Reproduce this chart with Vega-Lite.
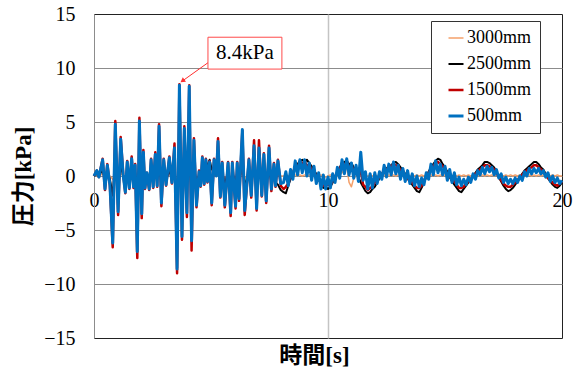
{
  "$schema": "https://vega.github.io/schema/vega-lite/v6.json",
  "width": 468,
  "height": 324,
  "autosize": {"type": "none"},
  "padding": {"left": 94, "top": 14, "right": 16, "bottom": 35},
  "background": "white",
  "config": {
    "view": {"stroke": "#222222", "strokeWidth": 1},
    "font": "Liberation Serif",
    "legend": {
      "orient": "none",
      "legendX": 337,
      "legendY": 7,
      "strokeColor": "#333333",
      "fillColor": "white",
      "padding": 8,
      "labelFont": "Liberation Serif",
      "labelFontSize": 18,
      "labelColor": "#000000",
      "symbolType": "stroke",
      "symbolSize": 225,
      "symbolOffset": 8,
      "labelOffset": 2,
      "rowPadding": 8
    }
  },
  "datasets": {
    "pressure": [
      {"t":0.00,"3000mm":0.0,"2500mm":0.0,"1500mm":0.0,"500mm":0.0},
      {"t":0.12,"3000mm":0.1,"2500mm":0.2,"1500mm":0.5,"500mm":0.5},
      {"t":0.21,"3000mm":0.0,"2500mm":0.1,"1500mm":-0.1,"500mm":-0.1},
      {"t":0.37,"3000mm":0.2,"2500mm":0.5,"1500mm":1.6,"500mm":1.5},
      {"t":0.47,"3000mm":-0.1,"2500mm":-0.3,"1500mm":-1.3,"500mm":-1.2},
      {"t":0.57,"3000mm":0.1,"2500mm":0.3,"1500mm":1.1,"500mm":1.0},
      {"t":0.68,"3000mm":0.0,"2500mm":-0.3,"1500mm":-0.9,"500mm":-0.8},
      {"t":0.80,"3000mm":-0.3,"2500mm":-1.8,"1500mm":-6.6,"500mm":-6.2},
      {"t":0.91,"3000mm":0.3,"2500mm":1.5,"1500mm":5.1,"500mm":4.8},
      {"t":1.03,"3000mm":-0.2,"2500mm":-1.0,"1500mm":-3.6,"500mm":-3.3},
      {"t":1.14,"3000mm":0.2,"2500mm":1.0,"1500mm":3.6,"500mm":3.4},
      {"t":1.25,"3000mm":0.0,"2500mm":0.0,"1500mm":0.1,"500mm":0.0},
      {"t":1.34,"3000mm":-0.1,"2500mm":-0.5,"1500mm":-1.6,"500mm":-1.5},
      {"t":1.42,"3000mm":0.1,"2500mm":0.4,"1500mm":1.4,"500mm":1.3},
      {"t":1.51,"3000mm":-0.1,"2500mm":-0.3,"1500mm":-1.2,"500mm":-1.1},
      {"t":1.61,"3000mm":0.1,"2500mm":0.5,"1500mm":1.8,"500mm":1.6},
      {"t":1.69,"3000mm":-0.1,"2500mm":-0.3,"1500mm":-1.1,"500mm":-1.0},
      {"t":1.76,"3000mm":0.1,"2500mm":0.3,"1500mm":1.1,"500mm":1.0},
      {"t":1.85,"3000mm":-0.4,"2500mm":-2.1,"1500mm":-7.6,"500mm":-7.0},
      {"t":1.94,"3000mm":0.3,"2500mm":1.5,"1500mm":5.4,"500mm":5.1},
      {"t":2.04,"3000mm":-0.2,"2500mm":-1.0,"1500mm":-3.9,"500mm":-3.5},
      {"t":2.11,"3000mm":0.2,"2500mm":0.7,"1500mm":2.4,"500mm":2.2},
      {"t":2.18,"3000mm":-0.1,"2500mm":-0.3,"1500mm":-1.2,"500mm":-1.1},
      {"t":2.26,"3000mm":0.0,"2500mm":0.1,"1500mm":0.3,"500mm":0.3},
      {"t":2.36,"3000mm":-0.1,"2500mm":-0.4,"1500mm":-1.3,"500mm":-1.2},
      {"t":2.44,"3000mm":0.1,"2500mm":0.5,"1500mm":1.6,"500mm":1.5},
      {"t":2.53,"3000mm":-0.1,"2500mm":-0.3,"1500mm":-1.1,"500mm":-1.0},
      {"t":2.62,"3000mm":0.1,"2500mm":0.6,"1500mm":2.2,"500mm":2.0},
      {"t":2.70,"3000mm":-0.1,"2500mm":-0.3,"1500mm":-1.0,"500mm":-0.9},
      {"t":2.78,"3000mm":0.3,"2500mm":1.4,"1500mm":4.8,"500mm":4.6},
      {"t":2.88,"3000mm":-0.2,"2500mm":-0.8,"1500mm":-2.8,"500mm":-2.5},
      {"t":2.98,"3000mm":0.1,"2500mm":0.5,"1500mm":1.6,"500mm":1.5},
      {"t":3.08,"3000mm":-0.1,"2500mm":-0.3,"1500mm":-0.9,"500mm":-0.8},
      {"t":3.22,"3000mm":0.1,"2500mm":0.5,"1500mm":1.8,"500mm":1.7},
      {"t":3.33,"3000mm":0.0,"2500mm":-0.2,"1500mm":-0.7,"500mm":-0.6},
      {"t":3.44,"3000mm":0.2,"2500mm":0.8,"1500mm":3.0,"500mm":2.6},
      {"t":3.55,"3000mm":-0.5,"2500mm":-2.6,"1500mm":-9.0,"500mm":-8.6},
      {"t":3.65,"3000mm":0.5,"2500mm":2.5,"1500mm":8.5,"500mm":8.4},
      {"t":3.76,"3000mm":-0.3,"2500mm":-1.7,"1500mm":-5.9,"500mm":-5.6},
      {"t":3.86,"3000mm":0.3,"2500mm":1.3,"1500mm":4.6,"500mm":4.4},
      {"t":3.97,"3000mm":-0.2,"2500mm":-1.0,"1500mm":-3.8,"500mm":-3.4},
      {"t":4.07,"3000mm":0.5,"2500mm":2.5,"1500mm":8.4,"500mm":8.3},
      {"t":4.17,"3000mm":-0.4,"2500mm":-1.8,"1500mm":-6.9,"500mm":-6.0},
      {"t":4.27,"3000mm":0.2,"2500mm":1.0,"1500mm":3.5,"500mm":3.3},
      {"t":4.38,"3000mm":-0.2,"2500mm":-0.8,"1500mm":-2.9,"500mm":-2.7},
      {"t":4.49,"3000mm":0.0,"2500mm":0.1,"1500mm":0.5,"500mm":0.4},
      {"t":4.56,"3000mm":-0.1,"2500mm":-0.3,"1500mm":-1.0,"500mm":-0.9},
      {"t":4.63,"3000mm":0.1,"2500mm":0.5,"1500mm":1.8,"500mm":1.7},
      {"t":4.71,"3000mm":0.0,"2500mm":0.2,"1500mm":-0.8,"500mm":-0.7},
      {"t":4.78,"3000mm":0.1,"2500mm":0.8,"1500mm":1.6,"500mm":1.5},
      {"t":4.85,"3000mm":0.0,"2500mm":1.0,"1500mm":-0.6,"500mm":-0.5},
      {"t":4.94,"3000mm":0.1,"2500mm":1.5,"1500mm":1.4,"500mm":1.3},
      {"t":5.03,"3000mm":-0.1,"2500mm":0.6,"1500mm":-2.7,"500mm":-2.5},
      {"t":5.13,"3000mm":0.1,"2500mm":0.8,"1500mm":1.6,"500mm":1.5},
      {"t":5.23,"3000mm":0.0,"2500mm":0.2,"1500mm":0.1,"500mm":0.0},
      {"t":5.30,"3000mm":0.2,"2500mm":1.0,"1500mm":3.5,"500mm":3.2},
      {"t":5.40,"3000mm":-0.1,"2500mm":-0.6,"1500mm":-2.0,"500mm":-1.9},
      {"t":5.48,"3000mm":0.1,"2500mm":0.4,"1500mm":1.3,"500mm":1.2},
      {"t":5.59,"3000mm":-0.2,"2500mm":-0.8,"1500mm":-2.9,"500mm":-2.7},
      {"t":5.73,"3000mm":0.1,"2500mm":0.4,"1500mm":1.3,"500mm":1.2},
      {"t":5.84,"3000mm":-0.2,"2500mm":-1.0,"1500mm":-3.7,"500mm":-3.4},
      {"t":5.91,"3000mm":0.1,"2500mm":0.4,"1500mm":1.3,"500mm":1.2},
      {"t":6.05,"3000mm":-0.2,"2500mm":-0.8,"1500mm":-3.0,"500mm":-2.8},
      {"t":6.12,"3000mm":0.1,"2500mm":0.4,"1500mm":1.3,"500mm":1.2},
      {"t":6.20,"3000mm":-0.1,"2500mm":-0.6,"1500mm":-2.3,"500mm":-2.1},
      {"t":6.34,"3000mm":0.3,"2500mm":1.3,"1500mm":4.2,"500mm":4.3},
      {"t":6.44,"3000mm":-0.2,"2500mm":-1.0,"1500mm":-3.6,"500mm":-3.2},
      {"t":6.62,"3000mm":0.1,"2500mm":0.5,"1500mm":1.6,"500mm":1.5},
      {"t":6.72,"3000mm":-0.1,"2500mm":-0.6,"1500mm":-2.0,"500mm":-1.8},
      {"t":6.84,"3000mm":0.2,"2500mm":0.9,"1500mm":3.3,"500mm":2.8},
      {"t":6.95,"3000mm":-0.2,"2500mm":-0.9,"1500mm":-3.2,"500mm":-3.0},
      {"t":7.05,"3000mm":0.2,"2500mm":0.8,"1500mm":3.3,"500mm":2.6},
      {"t":7.17,"3000mm":-0.1,"2500mm":-0.6,"1500mm":-1.9,"500mm":-1.8},
      {"t":7.26,"3000mm":0.1,"2500mm":0.6,"1500mm":2.1,"500mm":2.0},
      {"t":7.36,"3000mm":-0.1,"2500mm":-0.8,"1500mm":-2.5,"500mm":-2.3},
      {"t":7.48,"3000mm":0.2,"2500mm":0.8,"1500mm":2.8,"500mm":2.6},
      {"t":7.58,"3000mm":-0.1,"2500mm":-0.6,"1500mm":-1.4,"500mm":-1.2},
      {"t":7.69,"3000mm":0.1,"2500mm":0.3,"1500mm":1.2,"500mm":1.1},
      {"t":7.76,"3000mm":-0.1,"2500mm":-0.6,"1500mm":-1.0,"500mm":-0.9},
      {"t":7.86,"3000mm":0.1,"2500mm":-0.8,"1500mm":1.5,"500mm":1.4},
      {"t":7.98,"3000mm":0.0,"2500mm":-1.3,"1500mm":-0.9,"500mm":-0.7},
      {"t":8.1,"3000mm":0.0,"2500mm":-1.5,"1500mm":-1.2,"500mm":-0.6},
      {"t":8.2,"3000mm":0.1,"2500mm":-1.6,"1500mm":-1.0,"500mm":0.4},
      {"t":8.3,"3000mm":0.0,"2500mm":-0.9,"1500mm":-0.7,"500mm":-0.9},
      {"t":8.4,"3000mm":0.1,"2500mm":-0.3,"1500mm":0.0,"500mm":0.6},
      {"t":8.5,"3000mm":0.0,"2500mm":0.3,"1500mm":0.3,"500mm":-0.3},
      {"t":8.6,"3000mm":0.1,"2500mm":0.7,"1500mm":0.9,"500mm":1.4},
      {"t":8.7,"3000mm":0.0,"2500mm":1.1,"1500mm":0.7,"500mm":0.1},
      {"t":8.8,"3000mm":0.1,"2500mm":1.4,"1500mm":1.4,"500mm":1.5},
      {"t":8.9,"3000mm":0.0,"2500mm":1.5,"1500mm":1.1,"500mm":0.3},
      {"t":9.0,"3000mm":0.1,"2500mm":1.3,"1500mm":1.4,"500mm":1.5},
      {"t":9.1,"3000mm":0.0,"2500mm":1.5,"1500mm":0.9,"500mm":0.0},
      {"t":9.2,"3000mm":0.1,"2500mm":1.2,"1500mm":1.1,"500mm":1.2},
      {"t":9.3,"3000mm":0.0,"2500mm":0.9,"1500mm":0.5,"500mm":-0.4},
      {"t":9.4,"3000mm":0.0,"2500mm":0.5,"1500mm":0.6,"500mm":0.9},
      {"t":9.5,"3000mm":0.1,"2500mm":0.2,"1500mm":-0.1,"500mm":-0.7},
      {"t":9.6,"3000mm":0.0,"2500mm":-0.3,"1500mm":-0.2,"500mm":0.3},
      {"t":9.7,"3000mm":0.1,"2500mm":-0.7,"1500mm":-0.7,"500mm":-1.2},
      {"t":9.8,"3000mm":0.0,"2500mm":-1.1,"1500mm":-0.9,"500mm":0.1},
      {"t":9.9,"3000mm":-0.1,"2500mm":-1.0,"1500mm":-0.9,"500mm":-1.2},
      {"t":10.0,"3000mm":0.0,"2500mm":-1.2,"1500mm":-0.8,"500mm":-0.1},
      {"t":10.1,"3000mm":0.1,"2500mm":-1.0,"1500mm":-0.9,"500mm":-1.1},
      {"t":10.2,"3000mm":0.0,"2500mm":-0.6,"1500mm":-0.4,"500mm":0.2},
      {"t":10.3,"3000mm":-0.2,"2500mm":-0.1,"1500mm":-0.1,"500mm":-0.6},
      {"t":10.4,"3000mm":0.0,"2500mm":0.3,"1500mm":0.4,"500mm":0.8},
      {"t":10.5,"3000mm":0.1,"2500mm":0.8,"1500mm":0.6,"500mm":-0.2},
      {"t":10.6,"3000mm":0.3,"2500mm":1.1,"1500mm":1.2,"500mm":1.5},
      {"t":10.7,"3000mm":0.6,"2500mm":1.3,"1500mm":0.9,"500mm":0.2},
      {"t":10.8,"3000mm":0.9,"2500mm":1.4,"1500mm":1.4,"500mm":1.6},
      {"t":10.9,"3000mm":-0.6,"2500mm":1.1,"1500mm":0.8,"500mm":0.1},
      {"t":11.0,"3000mm":-1.0,"2500mm":1.2,"1500mm":1.0,"500mm":1.2},
      {"t":11.1,"3000mm":-0.2,"2500mm":0.8,"1500mm":0.5,"500mm":-0.2},
      {"t":11.2,"3000mm":0.0,"2500mm":0.4,"1500mm":0.4,"500mm":1.0},
      {"t":11.3,"3000mm":0.1,"2500mm":-0.1,"1500mm":0.0,"500mm":-0.5},
      {"t":11.4,"3000mm":0.0,"2500mm":-0.6,"1500mm":0.6,"500mm":2.2},
      {"t":11.5,"3000mm":0.1,"2500mm":-1.0,"1500mm":-0.8,"500mm":-0.4},
      {"t":11.6,"3000mm":0.0,"2500mm":-1.4,"1500mm":-1.0,"500mm":0.4},
      {"t":11.7,"3000mm":0.0,"2500mm":-1.6,"1500mm":-1.3,"500mm":-1.2},
      {"t":11.8,"3000mm":0.1,"2500mm":-1.5,"1500mm":-1.1,"500mm":0.2},
      {"t":11.9,"3000mm":0.0,"2500mm":-1.2,"1500mm":-1.0,"500mm":-1.1},
      {"t":12.0,"3000mm":0.1,"2500mm":-1.0,"1500mm":-0.6,"500mm":0.3},
      {"t":12.1,"3000mm":0.0,"2500mm":-0.6,"1500mm":-0.5,"500mm":-0.7},
      {"t":12.2,"3000mm":0.1,"2500mm":-0.2,"1500mm":0.0,"500mm":0.4},
      {"t":12.3,"3000mm":0.0,"2500mm":0.2,"1500mm":0.2,"500mm":-0.3},
      {"t":12.4,"3000mm":0.1,"2500mm":0.4,"1500mm":0.5,"500mm":1.0},
      {"t":12.5,"3000mm":0.0,"2500mm":0.7,"1500mm":0.6,"500mm":-0.1},
      {"t":12.6,"3000mm":0.1,"2500mm":0.9,"1500mm":0.8,"500mm":1.1},
      {"t":12.7,"3000mm":0.0,"2500mm":1.0,"1500mm":0.9,"500mm":0.1},
      {"t":12.8,"3000mm":0.1,"2500mm":1.2,"1500mm":1.1,"500mm":1.3},
      {"t":12.9,"3000mm":0.0,"2500mm":1.3,"1500mm":1.0,"500mm":0.2},
      {"t":13.0,"3000mm":0.1,"2500mm":1.1,"1500mm":0.9,"500mm":1.0},
      {"t":13.1,"3000mm":0.0,"2500mm":0.8,"1500mm":0.5,"500mm":-0.3},
      {"t":13.2,"3000mm":0.1,"2500mm":0.5,"1500mm":0.5,"500mm":0.7},
      {"t":13.3,"3000mm":0.0,"2500mm":0.2,"1500mm":0.0,"500mm":-0.5},
      {"t":13.4,"3000mm":0.1,"2500mm":-0.2,"1500mm":-0.2,"500mm":0.5},
      {"t":13.5,"3000mm":0.0,"2500mm":-0.5,"1500mm":-0.5,"500mm":-0.7},
      {"t":13.6,"3000mm":0.1,"2500mm":-0.8,"1500mm":-0.6,"500mm":0.2},
      {"t":13.7,"3000mm":0.0,"2500mm":-1.1,"1500mm":-0.9,"500mm":-0.9},
      {"t":13.8,"3000mm":0.1,"2500mm":-1.4,"1500mm":-1.1,"500mm":0.0},
      {"t":13.9,"3000mm":0.0,"2500mm":-1.5,"1500mm":-1.1,"500mm":-1.0},
      {"t":14.0,"3000mm":0.1,"2500mm":-1.1,"1500mm":-0.9,"500mm":-0.2},
      {"t":14.1,"3000mm":0.0,"2500mm":-0.6,"1500mm":-0.4,"500mm":-0.8},
      {"t":14.2,"3000mm":0.1,"2500mm":-0.1,"1500mm":-0.1,"500mm":0.3},
      {"t":14.3,"3000mm":0.0,"2500mm":0.4,"1500mm":0.3,"500mm":-0.3},
      {"t":14.4,"3000mm":0.1,"2500mm":0.8,"1500mm":0.6,"500mm":1.1},
      {"t":14.5,"3000mm":0.0,"2500mm":1.1,"1500mm":0.9,"500mm":0.1},
      {"t":14.6,"3000mm":0.1,"2500mm":1.4,"1500mm":1.2,"500mm":1.4},
      {"t":14.7,"3000mm":0.0,"2500mm":1.6,"1500mm":1.3,"500mm":0.3},
      {"t":14.8,"3000mm":0.1,"2500mm":1.5,"1500mm":1.1,"500mm":1.1},
      {"t":14.9,"3000mm":0.0,"2500mm":1.1,"1500mm":0.9,"500mm":0.1},
      {"t":15.0,"3000mm":0.1,"2500mm":0.8,"1500mm":0.6,"500mm":0.9},
      {"t":15.1,"3000mm":0.0,"2500mm":0.4,"1500mm":0.2,"500mm":-0.4},
      {"t":15.2,"3000mm":0.1,"2500mm":-0.1,"1500mm":0.0,"500mm":0.6},
      {"t":15.3,"3000mm":0.0,"2500mm":-0.5,"1500mm":-0.4,"500mm":-0.6},
      {"t":15.4,"3000mm":0.1,"2500mm":-0.8,"1500mm":-0.5,"500mm":0.3},
      {"t":15.5,"3000mm":0.0,"2500mm":-1.1,"1500mm":-0.8,"500mm":-0.8},
      {"t":15.6,"3000mm":0.1,"2500mm":-1.4,"1500mm":-1.1,"500mm":-0.1},
      {"t":15.7,"3000mm":0.0,"2500mm":-1.5,"1500mm":-1.1,"500mm":-0.9},
      {"t":15.8,"3000mm":0.1,"2500mm":-1.2,"1500mm":-1.0,"500mm":-0.3},
      {"t":15.9,"3000mm":0.0,"2500mm":-0.9,"1500mm":-0.7,"500mm":-0.8},
      {"t":16.0,"3000mm":0.1,"2500mm":-0.6,"1500mm":-0.5,"500mm":-0.1},
      {"t":16.1,"3000mm":0.0,"2500mm":-0.3,"1500mm":-0.3,"500mm":-0.6},
      {"t":16.2,"3000mm":0.1,"2500mm":0.0,"1500mm":0.0,"500mm":0.2},
      {"t":16.3,"3000mm":0.0,"2500mm":0.3,"1500mm":0.2,"500mm":-0.3},
      {"t":16.4,"3000mm":0.1,"2500mm":0.6,"1500mm":0.4,"500mm":0.5},
      {"t":16.5,"3000mm":0.0,"2500mm":0.8,"1500mm":0.6,"500mm":0.1},
      {"t":16.6,"3000mm":0.1,"2500mm":1.0,"1500mm":0.8,"500mm":0.8},
      {"t":16.7,"3000mm":0.0,"2500mm":1.3,"1500mm":1.0,"500mm":0.2},
      {"t":16.8,"3000mm":0.1,"2500mm":1.3,"1500mm":1.0,"500mm":0.9},
      {"t":16.9,"3000mm":0.0,"2500mm":1.2,"1500mm":0.9,"500mm":0.4},
      {"t":17.0,"3000mm":0.1,"2500mm":1.0,"1500mm":0.8,"500mm":0.8},
      {"t":17.1,"3000mm":0.0,"2500mm":0.8,"1500mm":0.6,"500mm":0.1},
      {"t":17.2,"3000mm":0.1,"2500mm":0.4,"1500mm":0.3,"500mm":0.6},
      {"t":17.3,"3000mm":0.0,"2500mm":-0.1,"1500mm":-0.1,"500mm":-0.2},
      {"t":17.4,"3000mm":0.1,"2500mm":-0.5,"1500mm":-0.4,"500mm":0.2},
      {"t":17.5,"3000mm":0.0,"2500mm":-0.9,"1500mm":-0.7,"500mm":-0.6},
      {"t":17.6,"3000mm":0.1,"2500mm":-1.2,"1500mm":-0.9,"500mm":-0.1},
      {"t":17.7,"3000mm":0.0,"2500mm":-1.4,"1500mm":-1.0,"500mm":-0.7},
      {"t":17.8,"3000mm":0.1,"2500mm":-1.3,"1500mm":-1.0,"500mm":-0.3},
      {"t":17.9,"3000mm":0.0,"2500mm":-1.1,"1500mm":-0.8,"500mm":-0.7},
      {"t":18.0,"3000mm":0.1,"2500mm":-0.8,"1500mm":-0.6,"500mm":-0.2},
      {"t":18.1,"3000mm":0.0,"2500mm":-0.5,"1500mm":-0.4,"500mm":-0.6},
      {"t":18.2,"3000mm":0.1,"2500mm":-0.2,"1500mm":-0.1,"500mm":0.0},
      {"t":18.3,"3000mm":0.0,"2500mm":0.2,"1500mm":0.1,"500mm":-0.4},
      {"t":18.4,"3000mm":0.1,"2500mm":0.5,"1500mm":0.4,"500mm":0.4},
      {"t":18.5,"3000mm":0.0,"2500mm":0.7,"1500mm":0.5,"500mm":0.0},
      {"t":18.6,"3000mm":0.1,"2500mm":0.9,"1500mm":0.7,"500mm":0.7},
      {"t":18.7,"3000mm":0.0,"2500mm":1.1,"1500mm":0.8,"500mm":0.2},
      {"t":18.8,"3000mm":0.1,"2500mm":1.3,"1500mm":1.0,"500mm":0.7},
      {"t":18.9,"3000mm":0.0,"2500mm":1.3,"1500mm":1.0,"500mm":0.3},
      {"t":19.0,"3000mm":0.1,"2500mm":1.1,"1500mm":0.8,"500mm":0.7},
      {"t":19.1,"3000mm":0.0,"2500mm":0.8,"1500mm":0.6,"500mm":0.2},
      {"t":19.2,"3000mm":0.1,"2500mm":0.6,"1500mm":0.4,"500mm":0.5},
      {"t":19.3,"3000mm":0.0,"2500mm":0.2,"1500mm":0.1,"500mm":-0.1},
      {"t":19.4,"3000mm":0.1,"2500mm":-0.2,"1500mm":-0.2,"500mm":0.3},
      {"t":19.5,"3000mm":0.0,"2500mm":-0.5,"1500mm":-0.4,"500mm":-0.5},
      {"t":19.6,"3000mm":0.1,"2500mm":-0.8,"1500mm":-0.6,"500mm":0.0},
      {"t":19.7,"3000mm":0.0,"2500mm":-1.0,"1500mm":-0.8,"500mm":-0.6},
      {"t":19.8,"3000mm":0.1,"2500mm":-1.1,"1500mm":-0.9,"500mm":-0.2},
      {"t":19.9,"3000mm":0.0,"2500mm":-0.9,"1500mm":-0.7,"500mm":-0.7},
      {"t":20.0,"3000mm":0.0,"2500mm":-0.6,"1500mm":-0.5,"500mm":-0.4}
    ],
    "callout": [{"t": 6.45, "v": 11.35, "label": "8.4kPa", "t1": 4.87, "t2": 8.03, "v1": 9.9, "v2": 12.85}],
    "pointer": [{"t1": 4.91, "v1": 10.55, "t2": 3.78, "v2": 8.8}]
  },
  "layer": [
    {
      "data": {"name": "pressure"},
      "transform": [
        {"fold": ["3000mm", "2500mm", "1500mm", "500mm"], "as": ["series", "kPa"]},
        {"filter": "datum.series === '3000mm'"}
      ],
      "mark": {"type": "line", "strokeJoin": "round"},
      "encoding": {
        "x": {
          "field": "t", "type": "quantitative",
          "scale": {"domain": [0, 20], "nice": false, "zero": false},
          "axis": {
            "title": "時間[s]",
            "values": [0, 10, 20],
            "domain": false,
            "ticks": false,
            "tickSize": 0,
            "labelPadding": -148,
            "labelFlush": false,
            "labelFont": "Liberation Serif",
            "labelFontSize": 20,
            "labelColor": "#000000",
            "grid": true,
            "gridColor": "#c4c4c4",
            "gridWidth": 1.5,
            "gridOpacity": {"condition": {"test": "datum.value === 10", "value": 1}, "value": 0},
            "titleFont": "Liberation Serif, Noto Sans CJK JP",
            "titleFontSize": 23,
            "titleFontWeight": "bold",
            "titleColor": "#000000",
            "titleX": 220,
            "titleY": 6,
            "titleBaseline": "top"
          }
        },
        "y": {
          "field": "kPa", "type": "quantitative",
          "scale": {"domain": [-15, 15], "nice": false},
          "axis": {
            "title": "圧力[kPa]",
            "values": [-15, -10, -5, 0, 5, 10, 15],
            "domain": true,
            "domainColor": "#8c8c8c",
            "ticks": false,
            "tickSize": 0,
            "labelPadding": 19,
            "labelFont": "Liberation Serif",
            "labelFontSize": 20,
            "labelColor": "#000000",
            "grid": true,
            "gridColor": "#8c8c8c",
            "gridWidth": 1,
            "gridOpacity": {"condition": {"test": "abs(datum.value) < 15", "value": 1}, "value": 0},
            "titleFont": "Liberation Serif, Noto Sans CJK JP",
            "titleFontSize": 23,
            "titleFontWeight": "bold",
            "titleColor": "#000000",
            "titlePadding": 8
          }
        },
        "color": {
          "field": "series", "type": "nominal", "title": null,
          "scale": {"domain": ["3000mm", "2500mm", "1500mm", "500mm"], "range": ["#F4A06A", "#000000", "#C00000", "#0070C0"]}
        },
        "strokeWidth": {
          "field": "series", "type": "nominal", "title": null,
          "scale": {"domain": ["3000mm", "2500mm", "1500mm", "500mm"], "range": [1.5, 3, 3, 3]}
        }
      }
    },
    {
      "data": {"name": "pressure"},
      "transform": [
        {"fold": ["3000mm", "2500mm", "1500mm", "500mm"], "as": ["series", "kPa"]},
        {"filter": "datum.series === '2500mm'"}
      ],
      "mark": {"type": "line", "strokeJoin": "round"},
      "encoding": {
        "x": {"field": "t", "type": "quantitative"},
        "y": {"field": "kPa", "type": "quantitative"},
        "color": {"field": "series", "type": "nominal", "title": null},
        "strokeWidth": {"field": "series", "type": "nominal", "title": null}
      }
    },
    {
      "data": {"name": "pressure"},
      "transform": [
        {"fold": ["3000mm", "2500mm", "1500mm", "500mm"], "as": ["series", "kPa"]},
        {"filter": "datum.series === '1500mm'"}
      ],
      "mark": {"type": "line", "strokeJoin": "round"},
      "encoding": {
        "x": {"field": "t", "type": "quantitative"},
        "y": {"field": "kPa", "type": "quantitative"},
        "color": {"field": "series", "type": "nominal", "title": null},
        "strokeWidth": {"field": "series", "type": "nominal", "title": null}
      }
    },
    {
      "data": {"name": "pressure"},
      "transform": [
        {"fold": ["3000mm", "2500mm", "1500mm", "500mm"], "as": ["series", "kPa"]},
        {"filter": "datum.series === '500mm'"}
      ],
      "mark": {"type": "line", "strokeJoin": "round"},
      "encoding": {
        "x": {"field": "t", "type": "quantitative"},
        "y": {"field": "kPa", "type": "quantitative"},
        "color": {"field": "series", "type": "nominal", "title": null},
        "strokeWidth": {"field": "series", "type": "nominal", "title": null}
      }
    },
    {
      "data": {"name": "pointer"},
      "mark": {"type": "rule", "color": "#FF3030", "strokeWidth": 1},
      "encoding": {
        "x": {"field": "t1", "type": "quantitative"},
        "y": {"field": "v1", "type": "quantitative"},
        "x2": {"field": "t2"},
        "y2": {"field": "v2"}
      }
    },
    {
      "data": {"name": "pointer"},
      "mark": {"type": "point", "shape": "triangle-up", "filled": true, "color": "#FF3030", "size": 30, "angle": 234, "opacity": 1},
      "encoding": {
        "x": {"field": "t2", "type": "quantitative"},
        "y": {"field": "v2", "type": "quantitative"}
      }
    },
    {
      "data": {"name": "callout"},
      "mark": {"type": "rect", "fill": "white", "stroke": "#FF4A4A", "strokeWidth": 1},
      "encoding": {
        "x": {"field": "t1", "type": "quantitative"},
        "x2": {"field": "t2"},
        "y": {"field": "v1", "type": "quantitative"},
        "y2": {"field": "v2"}
      }
    },
    {
      "data": {"name": "callout"},
      "mark": {"type": "text", "font": "Liberation Serif", "fontSize": 21, "color": "#000000", "baseline": "middle", "align": "center"},
      "encoding": {
        "x": {"field": "t", "type": "quantitative"},
        "y": {"field": "v", "type": "quantitative"},
        "text": {"field": "label"}
      }
    }
  ]
}
